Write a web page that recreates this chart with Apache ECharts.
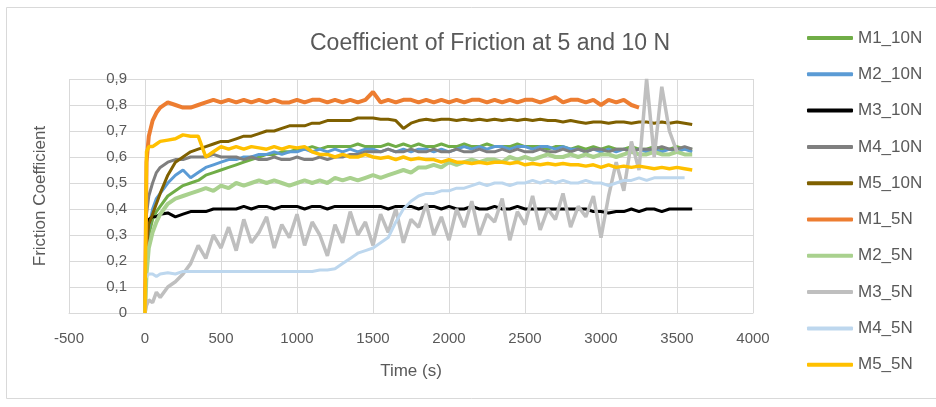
<!DOCTYPE html>
<html>
<head>
<meta charset="utf-8">
<script src="https://cdn.jsdelivr.net/npm/echarts@6/dist/echarts.min.js"></script>
<style>
html,body{margin:0;padding:0;background:#fff;}
#chart{width:936px;height:407px;}
</style>
</head>
<body>
<div id="chart"></div>
<script>
// Time axis (s)
var time = [0,10,25,50,75,100,150,200,250,300,350,400,450,500,550,600,650,700,750,800,850,900,950,1000,1050,1100,1150,1200,1250,1300,1350,1400,1450,1500,1550,1600,1650,1700,1750,1800,1850,1900,1950,2000,2050,2100,2150,2200,2250,2300,2350,2400,2450,2500,2550,2600,2650,2700,2750,2800,2850,2900,2950,3000,3050,3100,3150,3200,3250,3300,3350,3400,3450,3500,3550,3600];

var seriesNames = ['M1_10N','M2_10N','M3_10N','M4_10N','M5_10N','M1_5N','M2_5N','M3_5N','M4_5N','M5_5N'];

var M1_10N = [0,0.22,0.30,0.36,0.39,0.41,0.45,0.47,0.49,0.50,
0.51,0.53,0.54,0.55,0.56,0.57,0.58,0.59,0.60,0.61,
0.61,0.62,0.62,0.63,0.63,0.64,0.63,0.64,0.64,0.64,
0.64,0.65,0.64,0.64,0.64,0.65,0.64,0.65,0.64,0.65,
0.64,0.64,0.65,0.64,0.64,0.65,0.64,0.64,0.65,0.64,
0.64,0.64,0.65,0.64,0.64,0.64,0.63,0.64,0.64,0.63,
0.64,0.63,0.64,0.63,0.64,0.63,0.63,0.64,0.63,0.63,
0.64,0.63,0.63,0.64,0.63,0.63];

var M2_10N = [0,0.25,0.33,0.40,0.44,0.46,0.50,0.53,0.55,0.52,
0.54,0.56,0.57,0.58,0.59,0.59,0.60,0.60,0.61,0.61,
0.62,0.61,0.62,0.62,0.63,0.62,0.63,0.62,0.63,0.62,
0.63,0.62,0.63,0.63,0.62,0.63,0.62,0.63,0.62,0.63,
0.63,0.62,0.63,0.62,0.63,0.64,0.63,0.64,0.63,0.64,
0.64,0.63,0.64,0.64,0.63,0.64,0.64,0.63,0.64,0.63,
0.63,0.62,0.63,0.62,0.63,0.62,0.63,0.62,0.63,0.62,
0.63,0.62,0.63,0.62,0.63,0.62];

var M3_10N = [0,0.33,0.36,0.37,0.37,0.38,0.385,0.37,0.38,0.39,
0.39,0.39,0.40,0.40,0.40,0.40,0.41,0.40,0.41,0.41,
0.40,0.41,0.41,0.41,0.40,0.41,0.41,0.40,0.41,0.41,
0.41,0.41,0.41,0.41,0.41,0.40,0.41,0.41,0.41,0.40,
0.41,0.41,0.40,0.41,0.40,0.40,0.41,0.40,0.40,0.41,
0.40,0.40,0.41,0.40,0.40,0.40,0.40,0.40,0.40,0.40,
0.40,0.40,0.39,0.39,0.385,0.39,0.39,0.40,0.39,0.40,
0.40,0.39,0.40,0.40,0.40,0.40];

var M4_10N = [0,0.38,0.45,0.50,0.54,0.56,0.58,0.59,0.59,0.60,
0.60,0.60,0.61,0.60,0.60,0.60,0.59,0.60,0.59,0.59,
0.60,0.59,0.59,0.60,0.59,0.59,0.60,0.59,0.60,0.60,
0.61,0.61,0.62,0.62,0.62,0.63,0.62,0.62,0.63,0.62,
0.62,0.63,0.62,0.62,0.63,0.62,0.62,0.63,0.62,0.62,
0.63,0.62,0.63,0.62,0.62,0.63,0.62,0.62,0.63,0.62,
0.63,0.62,0.63,0.63,0.62,0.63,0.63,0.62,0.63,0.63,
0.63,0.64,0.63,0.63,0.64,0.63];

var M5_10N = [0,0.25,0.34,0.38,0.42,0.46,0.53,0.58,0.60,0.62,
0.63,0.64,0.65,0.66,0.66,0.67,0.68,0.68,0.69,0.70,
0.70,0.71,0.72,0.72,0.72,0.73,0.73,0.74,0.74,0.74,
0.74,0.75,0.75,0.75,0.745,0.745,0.74,0.71,0.73,0.74,
0.745,0.74,0.745,0.745,0.74,0.745,0.74,0.745,0.74,0.745,
0.74,0.745,0.74,0.745,0.74,0.745,0.74,0.74,0.735,0.74,
0.735,0.73,0.735,0.735,0.73,0.735,0.735,0.73,0.735,0.735,
0.73,0.735,0.73,0.735,0.73,0.725];

var M1_5N = [0,0.58,0.68,0.74,0.77,0.79,0.81,0.80,0.79,0.79,
0.80,0.81,0.82,0.81,0.82,0.81,0.82,0.81,0.82,0.81,
0.82,0.81,0.81,0.82,0.81,0.82,0.82,0.81,0.82,0.81,
0.82,0.81,0.82,0.85,0.81,0.82,0.81,0.82,0.82,0.81,
0.82,0.81,0.82,0.81,0.82,0.81,0.82,0.82,0.81,0.82,
0.81,0.82,0.81,0.82,0.82,0.81,0.82,0.83,0.81,0.82,
0.82,0.81,0.82,0.80,0.82,0.81,0.82,0.80,0.79,null,
null,null,null,null,null,null];

var M2_5N = [0,0.15,0.25,0.31,0.35,0.38,0.42,0.44,0.45,0.46,
0.47,0.48,0.47,0.49,0.48,0.50,0.49,0.50,0.51,0.50,
0.51,0.50,0.49,0.50,0.51,0.50,0.51,0.50,0.52,0.51,
0.52,0.51,0.52,0.53,0.52,0.53,0.54,0.55,0.54,0.56,
0.56,0.57,0.56,0.58,0.57,0.58,0.59,0.58,0.59,0.59,
0.58,0.60,0.59,0.60,0.59,0.60,0.61,0.60,0.60,0.61,
0.60,0.61,0.60,0.61,0.61,0.60,0.61,0.62,0.61,0.61,
0.62,0.61,0.61,0.62,0.61,0.61];

var M3_5N = [0,0.03,0.05,0.04,0.08,0.06,0.10,0.12,0.15,0.19,
0.26,0.21,0.30,0.25,0.33,0.24,0.36,0.27,0.31,0.37,
0.25,0.34,0.29,0.38,0.26,0.35,0.30,0.22,0.34,0.27,
0.39,0.30,0.35,0.26,0.38,0.31,0.40,0.27,0.36,0.33,
0.42,0.30,0.37,0.28,0.40,0.33,0.43,0.30,0.38,0.35,
0.44,0.28,0.39,0.34,0.45,0.32,0.40,0.36,0.46,0.33,
0.41,0.37,0.45,0.29,0.45,0.58,0.47,0.66,0.55,0.90,
0.60,0.87,0.70,0.62,null,null];

var M4_5N = [0.13,0.14,0.15,0.15,0.14,0.15,0.155,0.15,0.16,0.16,
0.16,0.16,0.16,0.16,0.16,0.16,0.16,0.16,0.16,0.16,
0.16,0.16,0.16,0.16,0.16,0.16,0.165,0.165,0.17,0.19,
0.21,0.23,0.24,0.25,0.27,0.29,0.35,0.40,0.43,0.45,
0.46,0.46,0.47,0.47,0.48,0.48,0.49,0.50,0.49,0.50,
0.50,0.49,0.50,0.50,0.51,0.50,0.51,0.50,0.51,0.50,
0.50,0.51,0.50,0.50,0.49,0.50,0.51,0.51,0.52,0.51,
0.52,0.52,0.52,0.52,0.52,null];

var M5_5N = [0,0.62,0.64,0.64,0.65,0.66,0.665,0.67,0.685,0.68,
0.68,0.60,0.62,0.64,0.63,0.64,0.63,0.64,0.635,0.63,
0.64,0.63,0.64,0.635,0.64,0.62,0.61,0.61,0.60,0.61,
0.60,0.60,0.61,0.60,0.595,0.60,0.59,0.60,0.59,0.595,
0.59,0.59,0.58,0.59,0.58,0.58,0.575,0.58,0.575,0.58,
0.58,0.575,0.58,0.57,0.575,0.57,0.575,0.57,0.575,0.57,
0.57,0.565,0.57,0.56,0.57,0.56,0.565,0.56,0.565,0.56,
0.555,0.56,0.555,0.56,0.555,0.55];

var xTicks = [-500,0,500,1000,1500,2000,2500,3000,3500,4000];
var yTicks = [0,0.1,0.2,0.3,0.4,0.5,0.6,0.7,0.8,0.9];

var seriesValues = [M1_10N,M2_10N,M3_10N,M4_10N,M5_10N,M1_5N,M2_5N,M3_5N,M4_5N,M5_5N];
var seriesColors = ['#70AD47','#5B9BD5','#000000','#7F7F7F','#7F6000','#ED7D31','#A9D18E','#BFBFBF','#BDD7EE','#FFC000'];
var seriesWidths = [3,3,3,3,3,4,4,3.5,3,3.5];

var chart = echarts.init(document.getElementById('chart'), null, {renderer:'canvas'});
var FONT = '"Liberation Sans", Arial, sans-serif';
var TXT = '#595959';

var series = seriesNames.map(function(name, k){
  var vals = seriesValues[k];
  return {
    name: name,
    type: 'line',
    showSymbol: false,
    symbol: 'none',
    connectNulls: false,
    lineStyle: {width: seriesWidths[k], color: seriesColors[k]},
    itemStyle: {color: seriesColors[k]},
    data: time.map(function(t, i){ return [t, vals[i]]; })
  };
});

// grid geometry
var GL = 69, GT = 79, GW = 684, GH = 234;
// y-axis crosses at time 0 (as in the original spreadsheet chart)
var yAxisOffset = -(GW * (0 - xTicks[0]) / (xTicks[xTicks.length-1] - xTicks[0]));

chart.setOption({
  animation: false,
  backgroundColor: '#ffffff',
  title: {
    text: 'Coefficient of Friction at 5 and 10 N',
    left: 305, top: 27,
    textStyle: {fontFamily: FONT, fontSize: 23, fontWeight: 'normal', color: TXT}
  },
  graphic: [{
    type: 'rect', silent: true, z: -10,
    shape: {x: 6.5, y: 7.5, width: 940, height: 391},
    style: {fill: 'none', stroke: '#D9D9D9', lineWidth: 1}
  }],
  legend: {
    orient: 'vertical',
    left: 802, top: 23,
    itemWidth: 46, itemHeight: 4,
    itemGap: 16.3,
    icon: 'roundRect',
    data: seriesNames,
    textStyle: {fontFamily: FONT, fontSize: 17, color: TXT, lineHeight: 20}
  },
  grid: {left: GL, top: GT, width: GW, height: GH, containLabel: false, outerBoundsMode: 'none'},
  xAxis: {
    type: 'value', min: xTicks[0], max: xTicks[xTicks.length-1], interval: 500,
    name: 'Time (s)', nameLocation: 'middle', nameGap: 50,
    nameTextStyle: {fontFamily: FONT, fontSize: 17, color: TXT},
    axisLine: {show: true, onZero: false, lineStyle: {color: '#D9D9D9'}},
    axisTick: {show: false},
    axisLabel: {fontFamily: FONT, fontSize: 15, color: TXT, margin: 18, formatter: function(v){return String(v);}},
    splitLine: {show: true, lineStyle: {color: '#D9D9D9', width: 1}}
  },
  yAxis: {
    type: 'value', min: yTicks[0], max: yTicks[yTicks.length-1], interval: 0.1,
    offset: yAxisOffset,
    name: 'Friction Coefficient', nameLocation: 'middle', nameGap: 96,
    nameTextStyle: {fontFamily: FONT, fontSize: 17, color: TXT},
    axisLine: {show: false, onZero: false},
    axisTick: {show: false},
    axisLabel: {fontFamily: FONT, fontSize: 15, color: TXT, margin: 18,
      formatter: function(v){ return v === 0 ? '0' : v.toFixed(1).replace('.', ','); }},
    splitLine: {show: true, lineStyle: {color: '#D9D9D9', width: 1}}
  },
  series: series
});
</script>
</body>
</html>
